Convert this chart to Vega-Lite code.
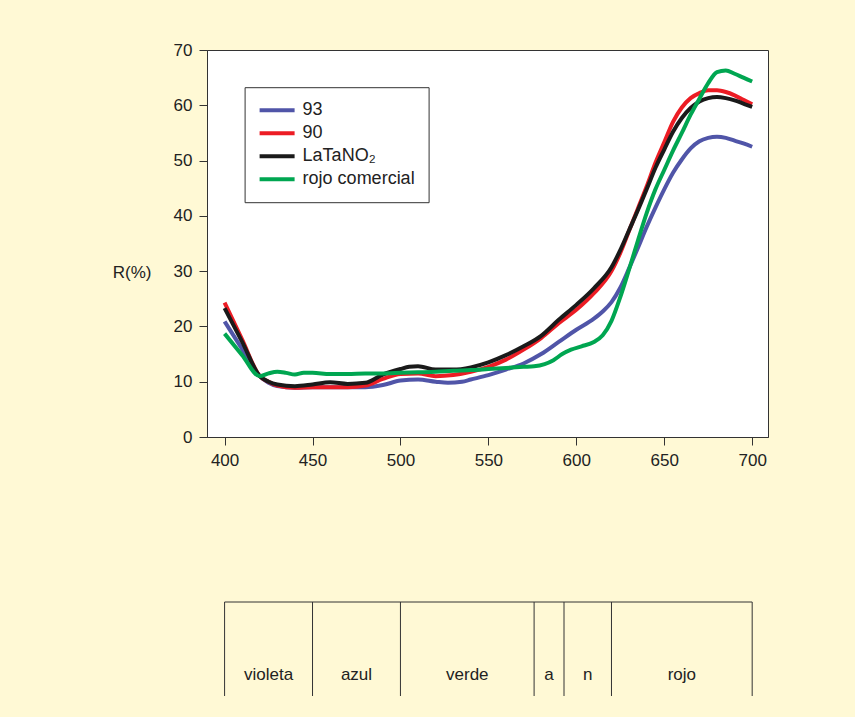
{
  "$schema": "https://vega.github.io/schema/vega-lite/v6.json",
  "background": "#FFF9D5",
  "padding": {"left": 111, "top": 40, "right": 86, "bottom": 22},
  "spacing": 132,
  "config": {"font": "Liberation Sans", "view": {"stroke": null}},
  "datasets": {
    "spectra": [
      {"w": 400, "s": "93", "r": 20.9}, {"w": 410, "s": "93", "r": 15.9}, {"w": 420, "s": "93", "r": 11.0}, {"w": 425, "s": "93", "r": 9.8}, {"w": 430, "s": "93", "r": 9.2}, {"w": 440, "s": "93", "r": 8.9}, {"w": 450, "s": "93", "r": 9.0}, {"w": 460, "s": "93", "r": 9.0}, {"w": 470, "s": "93", "r": 9.0}, {"w": 480, "s": "93", "r": 9.0}, {"w": 490, "s": "93", "r": 9.4}, {"w": 500, "s": "93", "r": 10.2}, {"w": 510, "s": "93", "r": 10.4}, {"w": 520, "s": "93", "r": 10.0}, {"w": 527, "s": "93", "r": 9.8}, {"w": 535, "s": "93", "r": 10.0}, {"w": 540, "s": "93", "r": 10.4}, {"w": 550, "s": "93", "r": 11.2}, {"w": 560, "s": "93", "r": 12.2}, {"w": 570, "s": "93", "r": 13.3}, {"w": 580, "s": "93", "r": 15.0}, {"w": 590, "s": "93", "r": 17.2}, {"w": 600, "s": "93", "r": 19.4}, {"w": 610, "s": "93", "r": 21.4}, {"w": 615, "s": "93", "r": 22.7}, {"w": 620, "s": "93", "r": 24.4}, {"w": 625, "s": "93", "r": 27.0}, {"w": 630, "s": "93", "r": 30.5}, {"w": 635, "s": "93", "r": 34.2}, {"w": 640, "s": "93", "r": 38.0}, {"w": 645, "s": "93", "r": 41.5}, {"w": 650, "s": "93", "r": 44.8}, {"w": 655, "s": "93", "r": 47.8}, {"w": 660, "s": "93", "r": 50.2}, {"w": 665, "s": "93", "r": 52.2}, {"w": 670, "s": "93", "r": 53.5}, {"w": 675, "s": "93", "r": 54.1}, {"w": 680, "s": "93", "r": 54.3}, {"w": 685, "s": "93", "r": 54.1}, {"w": 690, "s": "93", "r": 53.6}, {"w": 695, "s": "93", "r": 53.1}, {"w": 700, "s": "93", "r": 52.5},
      {"w": 400, "s": "90", "r": 24.3}, {"w": 410, "s": "90", "r": 17.6}, {"w": 420, "s": "90", "r": 11.0}, {"w": 425, "s": "90", "r": 10.0}, {"w": 430, "s": "90", "r": 9.3}, {"w": 440, "s": "90", "r": 8.9}, {"w": 450, "s": "90", "r": 9.0}, {"w": 460, "s": "90", "r": 9.0}, {"w": 470, "s": "90", "r": 9.0}, {"w": 480, "s": "90", "r": 9.3}, {"w": 490, "s": "90", "r": 10.5}, {"w": 500, "s": "90", "r": 11.4}, {"w": 510, "s": "90", "r": 11.5}, {"w": 520, "s": "90", "r": 11.0}, {"w": 530, "s": "90", "r": 11.2}, {"w": 540, "s": "90", "r": 11.8}, {"w": 550, "s": "90", "r": 12.7}, {"w": 560, "s": "90", "r": 14.0}, {"w": 570, "s": "90", "r": 15.8}, {"w": 580, "s": "90", "r": 17.9}, {"w": 590, "s": "90", "r": 20.6}, {"w": 600, "s": "90", "r": 23.0}, {"w": 610, "s": "90", "r": 26.0}, {"w": 620, "s": "90", "r": 30.0}, {"w": 625, "s": "90", "r": 33.3}, {"w": 630, "s": "90", "r": 37.3}, {"w": 635, "s": "90", "r": 41.3}, {"w": 640, "s": "90", "r": 45.3}, {"w": 645, "s": "90", "r": 49.6}, {"w": 650, "s": "90", "r": 53.3}, {"w": 655, "s": "90", "r": 57.0}, {"w": 660, "s": "90", "r": 59.6}, {"w": 665, "s": "90", "r": 61.3}, {"w": 670, "s": "90", "r": 62.2}, {"w": 675, "s": "90", "r": 62.7}, {"w": 680, "s": "90", "r": 62.7}, {"w": 685, "s": "90", "r": 62.4}, {"w": 690, "s": "90", "r": 61.8}, {"w": 695, "s": "90", "r": 61.0}, {"w": 700, "s": "90", "r": 60.2},
      {"w": 400, "s": "LaTaNO₂", "r": 23.3}, {"w": 410, "s": "LaTaNO₂", "r": 17.2}, {"w": 420, "s": "LaTaNO₂", "r": 11.0}, {"w": 425, "s": "LaTaNO₂", "r": 10.0}, {"w": 430, "s": "LaTaNO₂", "r": 9.5}, {"w": 440, "s": "LaTaNO₂", "r": 9.2}, {"w": 450, "s": "LaTaNO₂", "r": 9.5}, {"w": 460, "s": "LaTaNO₂", "r": 9.9}, {"w": 470, "s": "LaTaNO₂", "r": 9.6}, {"w": 480, "s": "LaTaNO₂", "r": 9.8}, {"w": 490, "s": "LaTaNO₂", "r": 11.3}, {"w": 500, "s": "LaTaNO₂", "r": 12.3}, {"w": 505, "s": "LaTaNO₂", "r": 12.7}, {"w": 510, "s": "LaTaNO₂", "r": 12.8}, {"w": 520, "s": "LaTaNO₂", "r": 12.2}, {"w": 530, "s": "LaTaNO₂", "r": 12.2}, {"w": 540, "s": "LaTaNO₂", "r": 12.6}, {"w": 550, "s": "LaTaNO₂", "r": 13.5}, {"w": 560, "s": "LaTaNO₂", "r": 14.8}, {"w": 570, "s": "LaTaNO₂", "r": 16.4}, {"w": 580, "s": "LaTaNO₂", "r": 18.3}, {"w": 590, "s": "LaTaNO₂", "r": 21.2}, {"w": 600, "s": "LaTaNO₂", "r": 23.9}, {"w": 610, "s": "LaTaNO₂", "r": 26.9}, {"w": 620, "s": "LaTaNO₂", "r": 30.7}, {"w": 625, "s": "LaTaNO₂", "r": 33.8}, {"w": 630, "s": "LaTaNO₂", "r": 37.4}, {"w": 635, "s": "LaTaNO₂", "r": 41.0}, {"w": 640, "s": "LaTaNO₂", "r": 44.8}, {"w": 645, "s": "LaTaNO₂", "r": 48.7}, {"w": 650, "s": "LaTaNO₂", "r": 52.0}, {"w": 655, "s": "LaTaNO₂", "r": 55.2}, {"w": 660, "s": "LaTaNO₂", "r": 57.7}, {"w": 665, "s": "LaTaNO₂", "r": 59.5}, {"w": 670, "s": "LaTaNO₂", "r": 60.7}, {"w": 675, "s": "LaTaNO₂", "r": 61.3}, {"w": 680, "s": "LaTaNO₂", "r": 61.5}, {"w": 685, "s": "LaTaNO₂", "r": 61.3}, {"w": 690, "s": "LaTaNO₂", "r": 60.9}, {"w": 695, "s": "LaTaNO₂", "r": 60.3}, {"w": 700, "s": "LaTaNO₂", "r": 59.7},
      {"w": 400, "s": "rojo comercial", "r": 18.7}, {"w": 410, "s": "rojo comercial", "r": 14.8}, {"w": 420, "s": "rojo comercial", "r": 11.0}, {"w": 425, "s": "rojo comercial", "r": 11.5}, {"w": 430, "s": "rojo comercial", "r": 11.8}, {"w": 435, "s": "rojo comercial", "r": 11.6}, {"w": 440, "s": "rojo comercial", "r": 11.3}, {"w": 445, "s": "rojo comercial", "r": 11.6}, {"w": 450, "s": "rojo comercial", "r": 11.6}, {"w": 460, "s": "rojo comercial", "r": 11.4}, {"w": 470, "s": "rojo comercial", "r": 11.4}, {"w": 480, "s": "rojo comercial", "r": 11.5}, {"w": 490, "s": "rojo comercial", "r": 11.5}, {"w": 500, "s": "rojo comercial", "r": 11.6}, {"w": 510, "s": "rojo comercial", "r": 11.7}, {"w": 520, "s": "rojo comercial", "r": 11.8}, {"w": 530, "s": "rojo comercial", "r": 12.0}, {"w": 540, "s": "rojo comercial", "r": 12.1}, {"w": 550, "s": "rojo comercial", "r": 12.3}, {"w": 560, "s": "rojo comercial", "r": 12.5}, {"w": 570, "s": "rojo comercial", "r": 12.7}, {"w": 576, "s": "rojo comercial", "r": 12.8}, {"w": 582, "s": "rojo comercial", "r": 13.2}, {"w": 587, "s": "rojo comercial", "r": 13.9}, {"w": 592, "s": "rojo comercial", "r": 15.0}, {"w": 597, "s": "rojo comercial", "r": 15.8}, {"w": 603, "s": "rojo comercial", "r": 16.4}, {"w": 610, "s": "rojo comercial", "r": 17.2}, {"w": 615, "s": "rojo comercial", "r": 18.4}, {"w": 620, "s": "rojo comercial", "r": 21.0}, {"w": 625, "s": "rojo comercial", "r": 25.3}, {"w": 630, "s": "rojo comercial", "r": 30.3}, {"w": 635, "s": "rojo comercial", "r": 35.5}, {"w": 640, "s": "rojo comercial", "r": 40.5}, {"w": 645, "s": "rojo comercial", "r": 44.8}, {"w": 650, "s": "rojo comercial", "r": 48.3}, {"w": 655, "s": "rojo comercial", "r": 51.8}, {"w": 660, "s": "rojo comercial", "r": 55.0}, {"w": 665, "s": "rojo comercial", "r": 58.3}, {"w": 670, "s": "rojo comercial", "r": 61.2}, {"w": 675, "s": "rojo comercial", "r": 64.0}, {"w": 680, "s": "rojo comercial", "r": 66.0}, {"w": 685, "s": "rojo comercial", "r": 66.3}, {"w": 690, "s": "rojo comercial", "r": 65.7}, {"w": 695, "s": "rojo comercial", "r": 65.0}, {"w": 700, "s": "rojo comercial", "r": 64.3}
    ],
    "bounds": [{"b": 400}, {"b": 450}, {"b": 500}, {"b": 576}, {"b": 593}, {"b": 620}, {"b": 700}],
    "bands": [
      {"name": "violeta", "center": 425},
      {"name": "azul", "center": 475},
      {"name": "verde", "center": 538},
      {"name": "a", "center": 584.5},
      {"name": "n", "center": 606.5},
      {"name": "rojo", "center": 660}
    ]
  },
  "vconcat": [
    {
      "width": 561,
      "height": 387,
      "view": {"fill": "white", "stroke": "#333", "strokeWidth": 1},
      "data": {"name": "spectra"},
      "mark": {"type": "line", "interpolate": "monotone", "strokeWidth": 4, "clip": true},
      "encoding": {
        "x": {
          "field": "w", "type": "quantitative",
          "scale": {"domain": [390, 709], "nice": false, "zero": false},
          "axis": {"values": [400, 450, 500, 550, 600, 650, 700], "title": null, "grid": false, "tickSize": 8, "labelPadding": 7, "labelFontSize": 17, "labelColor": "#222", "domainColor": "#333", "tickColor": "#333", "labelFlush": false}
        },
        "y": {
          "field": "r", "type": "quantitative",
          "scale": {"domain": [0, 70], "nice": false},
          "axis": {"values": [0, 10, 20, 30, 40, 50, 60, 70], "title": "R(%)", "titleAngle": 0, "titleAlign": "right", "titleBaseline": "middle", "titleX": -56, "titleY": 222, "titleFontSize": 17, "titleFontWeight": "normal", "titleColor": "#222", "grid": false, "tickSize": 8, "labelPadding": 7, "labelFontSize": 17, "labelColor": "#222", "domainColor": "#333", "tickColor": "#333", "labelFlush": false}
        },
        "color": {
          "field": "s", "type": "nominal",
          "scale": {"domain": ["93", "90", "LaTaNO₂", "rojo comercial"], "range": ["#5055A8", "#EC1C24", "#1A1A1A", "#00A651"]},
          "legend": {"orient": "none", "legendX": 37.6, "legendY": 37.2, "title": null, "symbolType": "stroke", "symbolSize": 1225, "symbolStrokeWidth": 4, "clipHeight": 20, "rowPadding": 3, "labelFontSize": 18, "labelOffset": 6, "padding": 13, "strokeColor": "#333", "fillColor": "white", "labelColor": "#222", "labelLimit": 300}
        }
      }
    },
    {
      "width": 561,
      "height": 94,
      "layer": [
        {
          "data": {"name": "bounds"},
          "mark": {"type": "rule", "color": "#333", "strokeWidth": 1},
          "encoding": {
            "x": {"field": "b", "type": "quantitative", "scale": {"domain": [390, 709], "nice": false, "zero": false}, "axis": null}
          }
        },
        {
          "data": {"name": "bounds"},
          "mark": {"type": "rule", "color": "#333", "strokeWidth": 1},
          "encoding": {
            "x": {"aggregate": "min", "field": "b", "type": "quantitative"},
            "x2": {"aggregate": "max", "field": "b"},
            "y": {"datum": 1, "type": "quantitative", "scale": {"domain": [0, 1], "nice": false}, "axis": null}
          }
        },
        {
          "data": {"name": "bands"},
          "mark": {"type": "text", "fontSize": 17, "color": "#222", "baseline": "middle", "align": "center"},
          "encoding": {
            "x": {"field": "center", "type": "quantitative"},
            "y": {"datum": 0.22, "type": "quantitative"},
            "text": {"field": "name"}
          }
        }
      ]
    }
  ]
}
